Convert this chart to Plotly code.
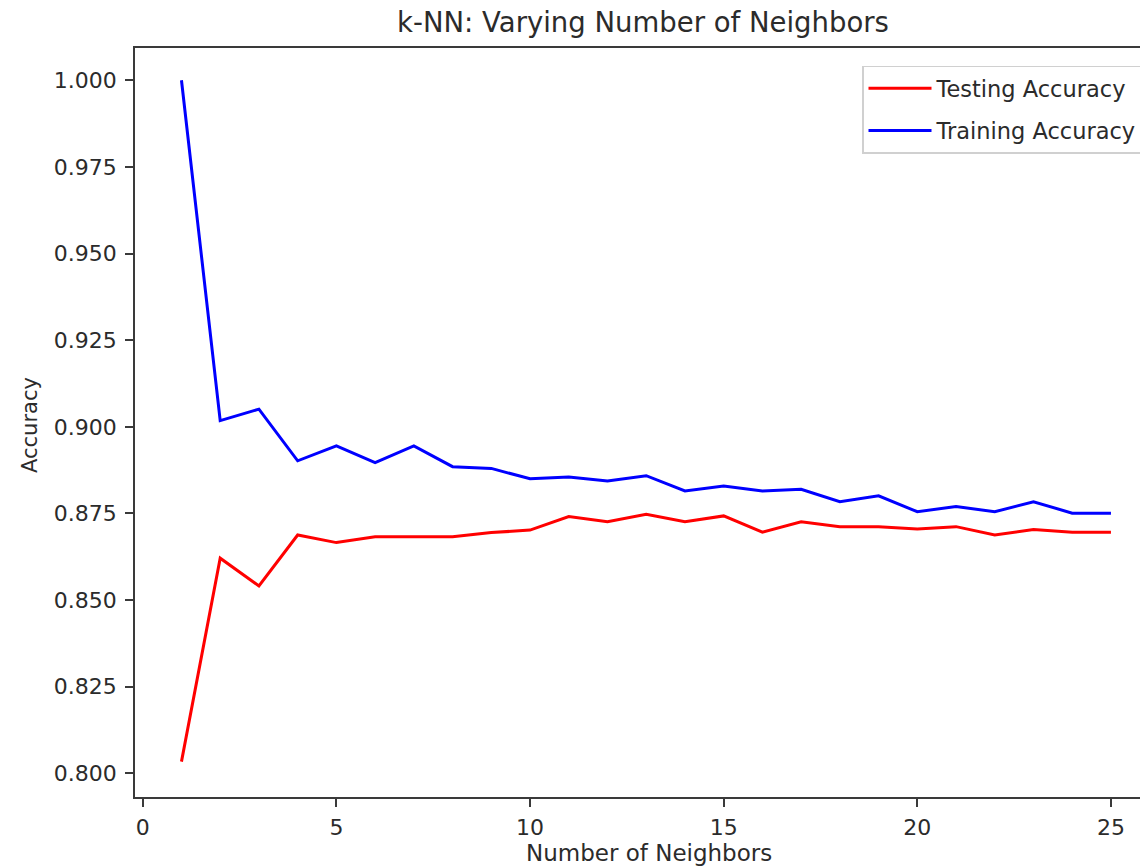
import plotly.graph_objects as go

# k values and accuracy scores for each neighbour count
neighbors = list(range(1, 26))
test_accuracy = [0.8034, 0.8621, 0.8541, 0.8688, 0.8666, 0.8683, 0.8683, 0.8683,
                 0.8695, 0.8702, 0.8741, 0.8726, 0.8748, 0.8726, 0.8743, 0.8696,
                 0.8726, 0.8712, 0.8712, 0.8705, 0.8712, 0.8688, 0.8704, 0.8696,
                 0.8696]
train_accuracy = [1.0000, 0.9018, 0.9051, 0.8902, 0.8945, 0.8897, 0.8945, 0.8885,
                  0.8880, 0.8850, 0.8855, 0.8844, 0.8859, 0.8815, 0.8829, 0.8815,
                  0.8820, 0.8784, 0.8801, 0.8755, 0.8770, 0.8755, 0.8784, 0.8751,
                  0.8751]

x_ticks = [0, 5, 10, 15, 20, 25]
y_ticks = [0.800, 0.825, 0.850, 0.875, 0.900, 0.925, 0.950, 0.975, 1.000]

FONT = "DejaVu Sans"
TEXT = "#2b2b2b"
AXIS = "#3a3a3a"

fig = go.Figure()
fig.add_trace(go.Scatter(x=neighbors, y=test_accuracy, mode="lines",
                         name="Testing Accuracy", legendgroup="test",
                         line=dict(color="#ff0000", width=3)))
fig.add_trace(go.Scatter(x=neighbors, y=train_accuracy, mode="lines",
                         name="Training Accuracy", legendgroup="train",
                         line=dict(color="#0000ff", width=3)))

fig.update_layout(
    width=1140, height=868,
    margin=dict(l=135, r=0, t=48, b=71, autoexpand=False),
    paper_bgcolor="white", plot_bgcolor="white",
    font=dict(family=FONT, size=22, color=TEXT),
    title=dict(text="k-NN: Varying Number of Neighbors",
               font=dict(family=FONT, size=27.5, color=TEXT),
               x=643 / 1140, xref="container", xanchor="center",
               y=1 - 22 / 868, yref="container", yanchor="middle"),
    showlegend=True,
    legend=dict(x=(862 - 135) / 1005, y=(797 - 65.5) / 749,
                xanchor="left", yanchor="top",
                bgcolor="white", bordercolor="#d0d0d0", borderwidth=1.5,
                font=dict(family=FONT, size=22.5, color=TEXT),
                itemwidth=63, tracegroupgap=10, traceorder="grouped"),
)

fig.update_xaxes(range=[-0.2, 25.75], tickvals=x_ticks,
                 showgrid=False, zeroline=False,
                 showline=True, linecolor=AXIS, linewidth=1.8, mirror=True,
                 ticks="outside", ticklen=8, tickwidth=1.5, tickcolor=AXIS,
                 ticklabelstandoff=2,
                 tickfont=dict(family=FONT, size=22, color=TEXT))
fig.update_yaxes(range=[0.7932, 1.0093], tickvals=y_ticks, tickformat=".3f",
                 showgrid=False, zeroline=False,
                 showline=True, linecolor=AXIS, linewidth=1.8, mirror=False,
                 ticks="outside", ticklen=8, tickwidth=1.5, tickcolor=AXIS,
                 ticklabelstandoff=4,
                 tickfont=dict(family=FONT, size=22, color=TEXT))

# axis titles placed as annotations
fig.add_annotation(text="Number of Neighbors", xref="paper", yref="paper",
                   x=(649 - 135) / 1005, y=-(853 - 797) / 749,
                   xanchor="center", yanchor="middle", showarrow=False,
                   font=dict(family=FONT, size=23, color=TEXT))
fig.add_annotation(text="Accuracy", xref="paper", yref="paper",
                   x=-(135 - 30) / 1005, y=(797 - 425) / 749,
                   xanchor="center", yanchor="middle", textangle=-90,
                   showarrow=False,
                   font=dict(family=FONT, size=21, color=TEXT))

fig.write_html("out.html")
